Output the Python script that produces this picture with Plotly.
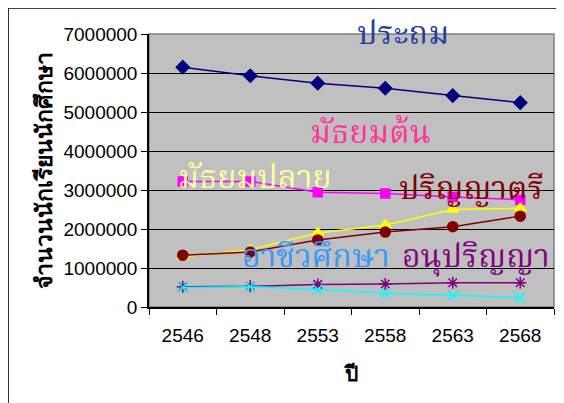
import plotly.graph_objects as go

years = ["2546", "2548", "2553", "2558", "2563", "2568"]

# จำนวนนักเรียนนักศึกษา แยกตามระดับ
prathom = [6150000, 5930000, 5740000, 5610000, 5420000, 5240000]
mathayom_ton = [3220000, 3220000, 2940000, 2910000, 2820000, 2750000]
mathayom_plai = [1290000, 1470000, 1900000, 2100000, 2500000, 2530000]
parinya_tri = [1330000, 1410000, 1720000, 1920000, 2060000, 2330000]
anuparinya = [520000, 530000, 580000, 590000, 620000, 620000]
achiwa = [500000, 520000, 450000, 350000, 300000, 240000]

series = [
    ("ประถม", prathom, "#000080", "diamond", 10),
    ("มัธยมต้น", mathayom_ton, "#ff00ff", "square", 9),
    ("มัธยมปลาย", mathayom_plai, "#ffff00", "triangle-up", 10),
    ("ปริญญาตรี", parinya_tri, "#800000", "circle", 10),
    ("อนุปริญญา", anuparinya, "#800080", "asterisk-open", 10),
    ("อาชีวศึกษา", achiwa, "#00ffff", "x-thin-open", 10),
]

# label text, colour, x (category index), y (value)
labels = [
    ("ประถม", "#1f3f9f", 3.26, 6950000),
    ("มัธยมต้น", "#ff3399", 2.78, 4420000),
    ("มัธยมปลาย", "#ffff99", 1.07, 3260000),
    ("ปริญญาตรี", "#800000", 4.27, 3000000),
    ("อาชีวศึกษา", "#3399ff", 1.98, 1250000),
    ("อนุปริญญา", "#800080", 4.35, 1250000),
]

fig = go.Figure()
for name, vals, color, symbol, size in series:
    fig.add_trace(go.Scatter(
        x=years, y=vals, name=name, mode="lines+markers",
        line=dict(color=color, width=1.5),
        marker=dict(symbol=symbol, size=size, color=color,
                    line=dict(color=color, width=1.5)),
    ))

for text, color, xi, yv in labels:
    fig.add_annotation(x=xi, y=yv, text=text, showarrow=False,
                       font=dict(family="Noto Serif Thai, Noto Sans Thai, serif", size=32, color=color))

# page has an 8px body margin, so the figure is a bit smaller than the window
fig.update_layout(
    width=556, height=395,
    margin=dict(l=141, r=10, t=26, b=96),
    paper_bgcolor="white",
    plot_bgcolor="#c0c0c0",
    showlegend=False,
    font=dict(family="Liberation Sans, Arial", size=19, color="black"),
)
fig.update_xaxes(
    type="category", tickson="boundaries", ticks="outside", ticklen=6,
    tickcolor="black", showline=True, linecolor="black", linewidth=1.5,
    showgrid=False, range=[-0.5, 5.5], ticklabelstandoff=10,
    title=dict(text="<b>ปี</b>", font=dict(size=21), standoff=22),
)
fig.update_yaxes(
    range=[0, 7000000], dtick=1000000, tickformat="d",
    ticks="outside", ticklen=6, tickcolor="black",
    showline=True, linecolor="black", linewidth=1.5,
    gridcolor="black", gridwidth=1, zeroline=False,
    title=dict(text="<b>จำนวนนักเรียนนักศึกษา</b>", font=dict(size=23), standoff=4),
)

# plot area frame (grey) and outer chart border (top and left)
fig.add_shape(type="rect", xref="paper", yref="paper", x0=0, y0=0, x1=1, y1=1,
              line=dict(color="#808080", width=1.5), layer="below")
fig.add_shape(type="line", xref="paper", yref="paper", x0=-0.35, x1=1.03, y0=1.095, y1=1.095,
              line=dict(color="black", width=1.5))
fig.add_shape(type="line", xref="paper", yref="paper", x0=-0.348, x1=-0.348, y0=-0.4, y1=1.095,
              line=dict(color="black", width=1.5))

fig.write_html("out.html")
